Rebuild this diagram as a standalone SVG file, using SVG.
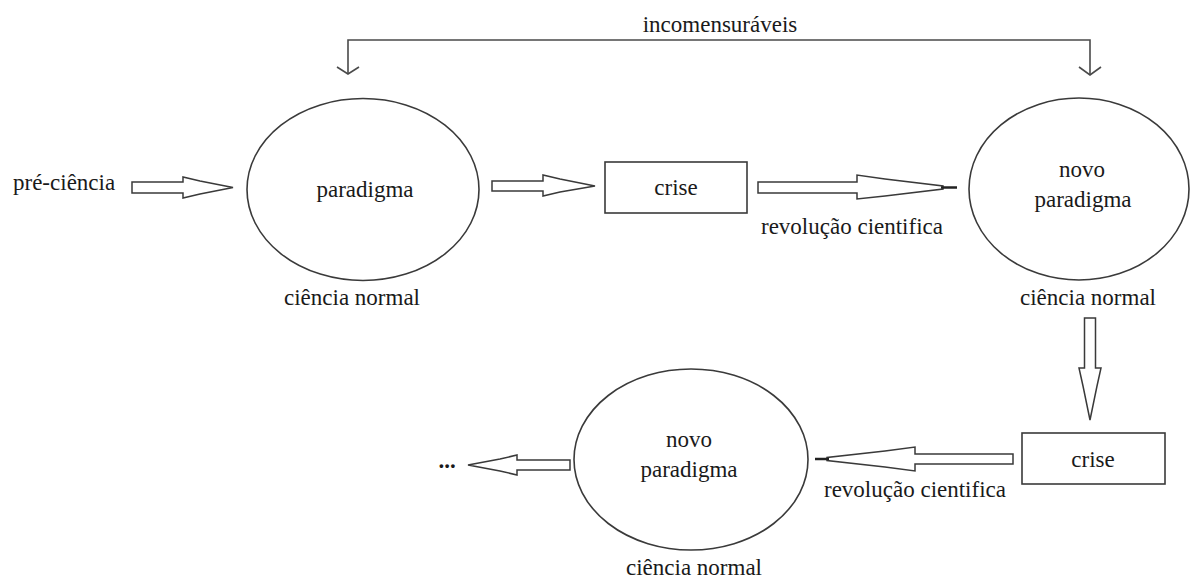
<svg xmlns="http://www.w3.org/2000/svg" width="1192" height="579" viewBox="0 0 1192 579">
<style>
  .t { font-family: "Liberation Serif", "Times New Roman", "DejaVu Serif", serif; font-size: 23px; fill: #1a1a1a; }
  .m { text-anchor: middle; }
  .shape { fill: #fff; stroke: #3a3a3a; stroke-width: 1.6; }
  .arrow { fill: #fff; stroke: #3a3a3a; stroke-width: 1.5; stroke-linejoin: miter; }
  .line { fill: none; stroke: #4a4a4a; stroke-width: 1.6; }
  .tipline { stroke: #222; stroke-width: 2.5; }
</style>
<rect width="1192" height="579" fill="#fff"/>

<g id="connectors">
  <polyline class="line" points="348,74 348,40 1090,40 1090,75"/>
  <polyline class="line" points="337,67 348,74 359,67"/>
  <polyline class="line" points="1079,67 1090,75 1101,67"/>
  <polygon class="arrow" points="132,182 183,182 183,177 200,181 233,187.5 200,194 183,198 183,193 132,193"/>
  <polygon class="arrow" points="492,181 543,181 543,175 560,179 595,186 560,192 543,196 543,191 492,191"/>
  <polygon class="arrow" points="758,182 857,182 857,175 885,179 943,186 943,189 885,196 857,199 857,193 758,193"/>
  <line class="tipline" x1="941" y1="187.5" x2="957" y2="187.5"/>
  <polygon class="arrow" points="1084.5,318 1095.5,318 1095.5,368 1101,368 1097,386 1090,420 1083,386 1079,368 1084.5,368"/>
  <polygon class="arrow" points="1013,454 915,454 915,447 885,451 827,457.5 827,460.5 885,467 915,471 915,464 1013,464"/>
  <line class="tipline" x1="829" y1="459" x2="815" y2="459"/>
  <polygon class="arrow" points="570,460 517,460 517,455 500,459 468,465 500,471 517,475 517,470 570,470"/>
  <text class="t m" x="720" y="32">incomensuráveis</text>
  <text class="t m" x="852" y="234">revolução cientifica</text>
  <text class="t m" x="915" y="497">revolução cientifica</text>
</g>

<g id="pre-ciencia">
  <text class="t" x="13" y="190">pré-ciência</text>
</g>

<g id="paradigma">
  <ellipse class="shape" cx="363" cy="189.5" rx="116" ry="91"/>
  <text class="t m" x="365" y="197">paradigma</text>
  <text class="t m" x="352" y="305">ciência normal</text>
</g>

<g id="crise1">
  <rect class="shape" x="605" y="162" width="142" height="51"/>
  <text class="t m" x="676" y="195">crise</text>
</g>

<g id="novo-paradigma-1">
  <ellipse class="shape" cx="1079" cy="189" rx="110" ry="91"/>
  <text class="t m" x="1082" y="177">novo</text>
  <text class="t m" x="1083" y="207">paradigma</text>
  <text class="t m" x="1088" y="305">ciência normal</text>
</g>

<g id="crise2">
  <rect class="shape" x="1022" y="433" width="143" height="51"/>
  <text class="t m" x="1093" y="467">crise</text>
</g>

<g id="novo-paradigma-2">
  <ellipse class="shape" cx="691" cy="459.5" rx="117" ry="90.5"/>
  <text class="t m" x="689" y="447">novo</text>
  <text class="t m" x="689" y="477">paradigma</text>
  <text class="t m" x="694" y="575">ciência normal</text>
</g>

<g id="continua">
  <text class="t m" x="447" y="468" font-weight="bold">...</text>
</g>
</svg>
